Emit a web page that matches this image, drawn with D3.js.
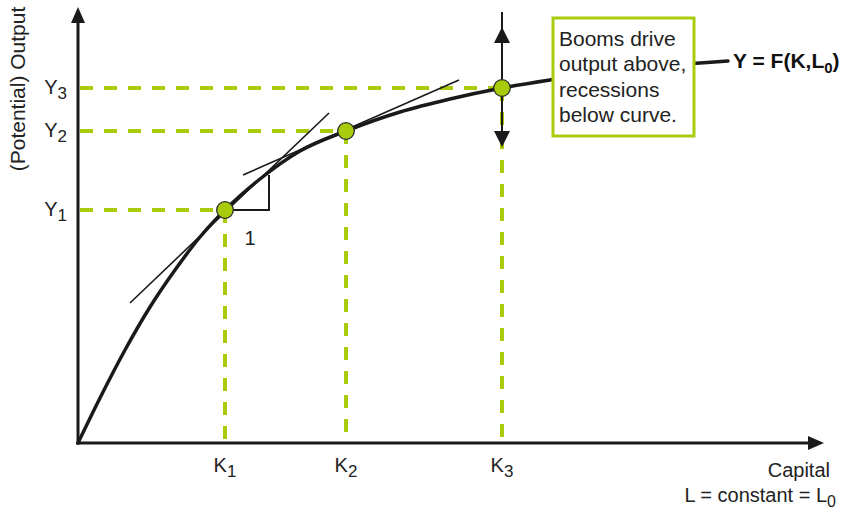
<!DOCTYPE html>
<html>
<head>
<meta charset="utf-8">
<script src="https://cdn.jsdelivr.net/npm/d3@7"></script>
<style>
  html, body { margin: 0; padding: 0; background: #fff; }
  svg { display: block; font-family: "Liberation Sans", Arial, Helvetica, sans-serif; }
</style>
</head>
<body>
<svg id="chart" width="846" height="512"></svg>
<script>
// ---- data (arbitrary units: capital K, output Y) ----
const curveK = [0, 22, 47, 72, 97, 122, 147, 182, 222, 268, 322, 372, 424, 472, 522, 572, 622, 650];
const curveY = [0, 45, 93, 136, 173, 206, 233, 264, 292, 312, 331, 344, 355, 363, 370, 376, 380, 382];
const pointK = [147, 268, 424];
const pointY = [233, 312, 355];
const kLabels = ["1", "2", "3"];
const yLabels = ["1", "2", "3"];
const tangentK = [[52, 251], [165, 381]];
const tangentY = [[140, 330], [268, 363]];
const slopeK = [147, 191];
const slopeY = [233, 268];
const boxLines = ["Booms drive", "output above,", "recessions", "below curve."];
const axisMaxK = 746, axisMaxY = 436;

const green = "#a8cc0b";
const ink = "#1a1a1a";

const svg = d3.select("#chart");
const x = d3.scaleLinear().domain([0, axisMaxK]).range([78, 824]);
const y = d3.scaleLinear().domain([0, axisMaxY]).range([443, 7]);

// dashed guides
const gGuide = svg.append("g").attr("stroke", green).attr("stroke-width", 4)
  .attr("stroke-dasharray", "13,11").attr("fill", "none");
pointK.forEach((k, i) => {
  gGuide.append("line").attr("x1", x(0) + 2).attr("x2", x(k))
    .attr("y1", y(pointY[i])).attr("y2", y(pointY[i]));
  gGuide.append("line").attr("x1", x(k)).attr("x2", x(k))
    .attr("y1", y(pointY[i])).attr("y2", y(0) - 2);
});

// axes
const gAxis = svg.append("g");
gAxis.append("line").attr("x1", x(0)).attr("x2", x(0))
  .attr("y1", y(0) + 1.5).attr("y2", y(axisMaxY) + 14)
  .attr("stroke", ink).attr("stroke-width", 3);
gAxis.append("path")
  .attr("d", `M${x(0)},${y(axisMaxY)} L${x(0) - 7},${y(axisMaxY) + 16} L${x(0) + 7},${y(axisMaxY) + 16} Z`)
  .attr("fill", ink);
gAxis.append("line").attr("x1", x(0) - 1.5).attr("x2", x(axisMaxK) - 14)
  .attr("y1", y(0)).attr("y2", y(0))
  .attr("stroke", ink).attr("stroke-width", 3);
gAxis.append("path")
  .attr("d", `M${x(axisMaxK)},${y(0)} L${x(axisMaxK) - 16},${y(0) - 7} L${x(axisMaxK) - 16},${y(0) + 7} Z`)
  .attr("fill", ink);

// tangents
tangentK.forEach((ks, i) => {
  svg.append("line").attr("x1", x(ks[0])).attr("x2", x(ks[1]))
    .attr("y1", y(tangentY[i][0])).attr("y2", y(tangentY[i][1]))
    .attr("stroke", ink).attr("stroke-width", 1.6);
});
// slope triangle
svg.append("path")
  .attr("d", `M${x(slopeK[0])},${y(slopeY[0])} L${x(slopeK[1])},${y(slopeY[0])} L${x(slopeK[1])},${y(slopeY[1])}`)
  .attr("fill", "none").attr("stroke", ink).attr("stroke-width", 2);
svg.append("text").attr("x", x(slopeK[0]) + 25).attr("y", y(slopeY[0]) + 35)
  .attr("text-anchor", "middle").attr("font-size", 20).attr("fill", "#222").text("1");

// production curve
const curveData = curveK.map((k, i) => [k, curveY[i]]);
svg.append("path").datum(curveData)
  .attr("d", d3.line().x(d => x(d[0])).y(d => y(d[1])).curve(d3.curveMonotoneX))
  .attr("fill", "none").attr("stroke", ink).attr("stroke-width", 3.5).attr("stroke-linecap", "round");

// arrows at third point
const p3x = x(pointK[2]), p3y = y(pointY[2]);
svg.append("line").attr("x1", p3x).attr("x2", p3x).attr("y1", p3y - 76).attr("y2", p3y + 44)
  .attr("stroke", ink).attr("stroke-width", 2);
svg.append("path").attr("d", `M${p3x},${p3y - 61} l-8,16 l16,0 Z`).attr("fill", ink);
svg.append("path").attr("d", `M${p3x},${p3y + 59} l-8,-16 l16,0 Z`).attr("fill", ink);

// points
svg.selectAll("circle.pt").data(pointK).join("circle").attr("class", "pt")
  .attr("cx", d => x(d)).attr("cy", (d, i) => y(pointY[i])).attr("r", 8.3)
  .attr("fill", green).attr("stroke", "#2a2a2a").attr("stroke-width", 1.3);

// annotation box
svg.append("rect").attr("x", 553).attr("y", 18).attr("width", 141).attr("height", 118)
  .attr("fill", "#fff").attr("stroke", green).attr("stroke-width", 3);
boxLines.forEach((t, i) => {
  svg.append("text").attr("x", 559).attr("y", 46 + i * 25.3)
    .attr("font-size", 21).attr("fill", "#222").text(t);
});

// curve label
const lab = svg.append("text").attr("x", x(curveK[curveK.length - 1]) + 5).attr("y", 68)
  .attr("font-size", 21).attr("font-weight", "bold").attr("fill", "#111");
lab.append("tspan").text("Y = F(K,L");
lab.append("tspan").attr("font-size", 15).attr("dy", 4.5).text("0");
lab.append("tspan").attr("dy", -4.5).text(")");

// Y tick labels
pointY.forEach((v, i) => {
  const t = svg.append("text").attr("x", 67).attr("y", y(v) + 6)
    .attr("text-anchor", "end").attr("font-size", 20).attr("fill", "#222");
  t.append("tspan").text("Y");
  t.append("tspan").attr("font-size", 17).attr("dy", 5).text(yLabels[i]);
});
// K tick labels
pointK.forEach((v, i) => {
  const t = svg.append("text").attr("x", x(v)).attr("y", 472)
    .attr("text-anchor", "middle").attr("font-size", 20).attr("fill", "#222");
  t.append("tspan").text("K");
  t.append("tspan").attr("font-size", 17).attr("dy", 5).text(kLabels[i]);
});

// axis titles
svg.append("text").attr("transform", "translate(25,89) rotate(-90)")
  .attr("text-anchor", "middle").attr("font-size", 21).attr("fill", "#222")
  .text("(Potential) Output");
svg.append("text").attr("x", 830).attr("y", 477).attr("text-anchor", "end")
  .attr("font-size", 20).attr("fill", "#222").text("Capital");
const lt = svg.append("text").attr("x", 836).attr("y", 502).attr("text-anchor", "end")
  .attr("font-size", 20).attr("fill", "#222");
lt.append("tspan").text("L = constant = L");
lt.append("tspan").attr("font-size", 16).attr("dy", 5).text("0");
</script>
</body>
</html>
